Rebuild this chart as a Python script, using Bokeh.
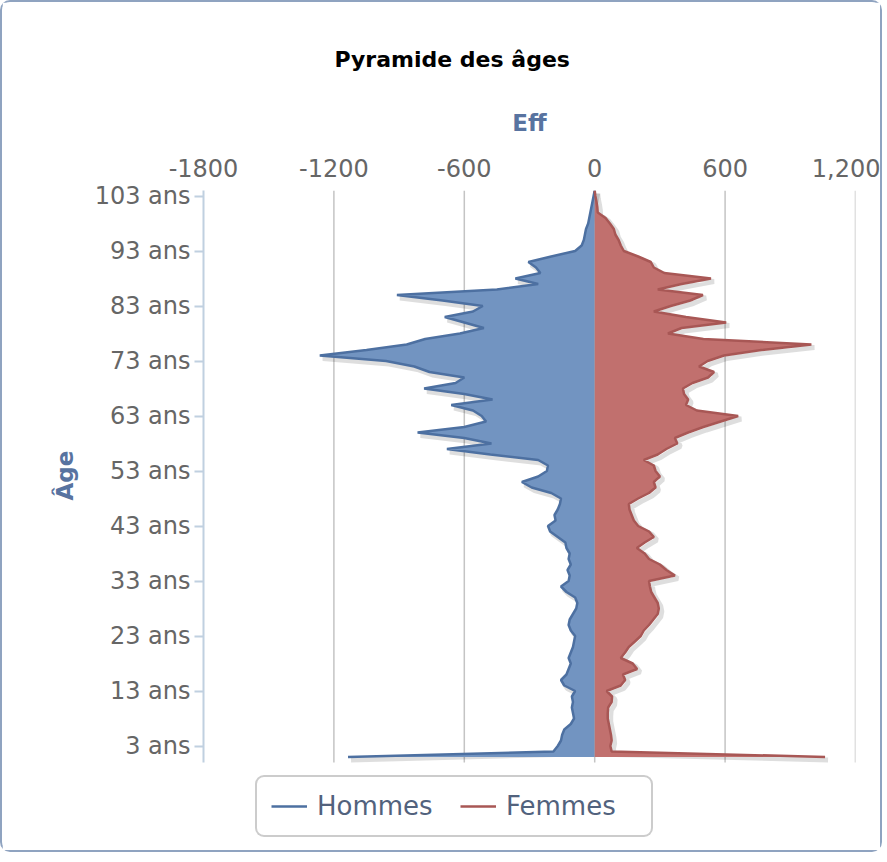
import numpy as np
from bokeh.plotting import figure
from bokeh.models import Range1d, FixedTicker, Legend, LegendItem, Title
from bokeh.embed import file_html
from bokeh.resources import INLINE

# ---- data ----
ages = list(range(1, 105))
hommes = [1135, 190, 170, 155, 150, 140, 110, 95, 100, 105,
          100, 105, 90, 140, 155, 130, 120, 110, 120, 110,
          100, 95, 90, 110, 120, 115, 100, 85, 80, 90,
          130, 155, 120, 115, 125, 110, 120, 115, 130, 135,
          170, 205, 215, 180, 185, 170, 160, 155, 200, 290,
          335, 260, 220, 215, 260, 480, 680, 475, 600, 815,
          600, 500, 520, 560, 660, 470, 600, 785, 640, 600,
          760, 830, 960, 1265, 1050, 865, 780, 620, 510, 600,
          690, 560, 515, 700, 910, 450, 260, 365, 250, 270,
          305, 200, 90, 60, 50, 45, 40, 30, 25, 20,
          15, 10, 5, 0]
femmes = [1060, 78, 72, 78, 75, 70, 65, 60, 60, 62,
          78, 80, 55, 120, 140, 130, 195, 175, 120, 140,
          157, 185, 212, 226, 250, 270, 290, 295, 290, 275,
          260, 254, 250, 369, 330, 300, 250, 230, 194, 230,
          272, 250, 200, 180, 170, 160, 157, 200, 250, 280,
          272, 300, 280, 272, 226, 290, 330, 380, 369, 430,
          500, 580, 660, 470, 420, 430, 411, 406, 450, 522,
          549, 480, 520, 595, 766, 997, 500, 337, 400, 605,
          420, 272, 350, 440, 498, 290, 400, 535, 320, 272,
          258, 200, 134, 120, 110, 95, 88, 70, 50, 14,
          12, 8, 3, 0]
x_ticks = [-1800, -1200, -600, 0, 600, 1200]
x_tick_labels = ["-1800", "-1200", "-600", "0", "600", "1,200"]
y_ticks = list(range(3, 104, 10))
y_tick_labels = [f"{a} ans" for a in y_ticks]

FONT = "DejaVu Sans"
AXIS_BLUE = "#5873a0"

x_min, x_max = -1800, 1200
y_min, y_max = 0, 104
frame_w, plot_h = 652, 572          # drawing area of the pyramid
legend_zone = 90                    # px kept under the pyramid for the legend
y_px = (y_max - y_min) / plot_h     # data units per pixel
y_low = y_min - legend_zone * y_px

p = figure(width=882, height=852, output_backend="svg", toolbar_location=None,
           x_range=Range1d(x_min, x_max), y_range=Range1d(y_low, y_max),
           x_axis_location="above",
           min_border_left=201, min_border_right=29,
           min_border_top=188, min_border_bottom=2)
p.styles = {"border": "2px solid #8fa3c0", "border-radius": "10px"}
p.outline_line_color = None
p.background_fill_color = "white"
p.border_fill_color = "white"

# title
p.title.text = "Pyramide des âges"
p.title.align = "left"
p.title.offset = 131
p.title.standoff = 69
p.title.text_font = FONT
p.title.text_font_size = "22px"
p.title.text_font_style = "bold"
p.title.text_color = "#000000"

# x axis (top)
xa = p.xaxis[0]
xa.ticker = FixedTicker(ticks=x_ticks)
xa.major_label_overrides = {t: l for t, l in zip(x_ticks, x_tick_labels)}
xa.axis_line_color = None
xa.major_tick_line_color = None
xa.minor_tick_line_color = None
xa.major_label_standoff = 8
xa.major_label_text_font = FONT
xa.major_label_text_font_size = "24px"
xa.major_label_text_color = "#666666"
xa.axis_label = "Eff"
xa.axis_label_text_font = FONT
xa.axis_label_text_font_size = "23px"
xa.axis_label_text_font_style = "bold"
xa.axis_label_text_color = AXIS_BLUE
xa.axis_label_standoff = 20

# y axis
ya = p.yaxis[0]
ya.bounds = (y_min, y_max)
ya.ticker = FixedTicker(ticks=y_ticks)
ya.major_label_overrides = {t: l for t, l in zip(y_ticks, y_tick_labels)}
ya.axis_line_color = "#c0d0e0"
ya.axis_line_width = 2
ya.major_tick_line_color = "#c0d0e0"
ya.major_tick_line_width = 2
ya.major_tick_out = 9
ya.major_tick_in = 0
ya.minor_tick_line_color = None
ya.major_label_standoff = 4
ya.major_label_text_font = FONT
ya.major_label_text_font_size = "24px"
ya.major_label_text_color = "#666666"

# y axis title, centred on the pyramid part of the frame
age_title = Title(text="Âge", align="left", offset=legend_zone + plot_h / 2 - 24,
                  standoff=28, text_font=FONT, text_font_size="23px",
                  text_font_style="bold", text_color=AXIS_BLUE)
p.add_layout(age_title, "left")

# vertical grid lines, limited to the pyramid's age span
p.xgrid.grid_line_color = None
p.ygrid.grid_line_color = None
gx = [t for t in x_ticks if t > x_min]
p.segment(x0=gx, y0=[y_min] * len(gx), x1=gx, y1=[y_max] * len(gx),
          line_color="#c4c4c4", line_width=1.5)

a = np.array(ages, dtype=float)
h = -np.array(hommes, dtype=float)
f = np.array(femmes, dtype=float)
zero = np.zeros_like(a)

# soft drop shadow: outline shifted by a few screen pixels
dx = 3 * (x_max - x_min) / frame_w
dy = 3 * y_px
p.line(h + dx, a - dy, line_color="#000000", line_alpha=0.13, line_width=5)
p.line(f + dx, a - dy, line_color="#000000", line_alpha=0.13, line_width=5)

p.harea(x1=zero, x2=h, y=a, fill_color="#7294c1")
p.harea(x1=zero, x2=f, y=a, fill_color="#c1706e")
line_h = p.line(h, a, line_color="#4d70a1", line_width=2.5)
line_f = p.line(f, a, line_color="#a85755", line_width=2.5)

# legend, in the space kept under the pyramid
legend = Legend(items=[LegendItem(label="Hommes", renderers=[line_h]),
                       LegendItem(label="Femmes", renderers=[line_f])],
                orientation="horizontal", location=(52, 15),
                label_text_font=FONT, label_text_font_size="26px",
                label_text_color="#52627d",
                glyph_width=36, glyph_height=26, label_standoff=10, spacing=12,
                label_width=131, padding=14, margin=0,
                border_line_color="#9a9a9a", border_line_width=2,
                background_fill_color="white")
if "border_radius" in Legend.properties():
    legend.border_radius = 9
p.add_layout(legend, "center")

open("out.html", "w").write(file_html(p, INLINE))
